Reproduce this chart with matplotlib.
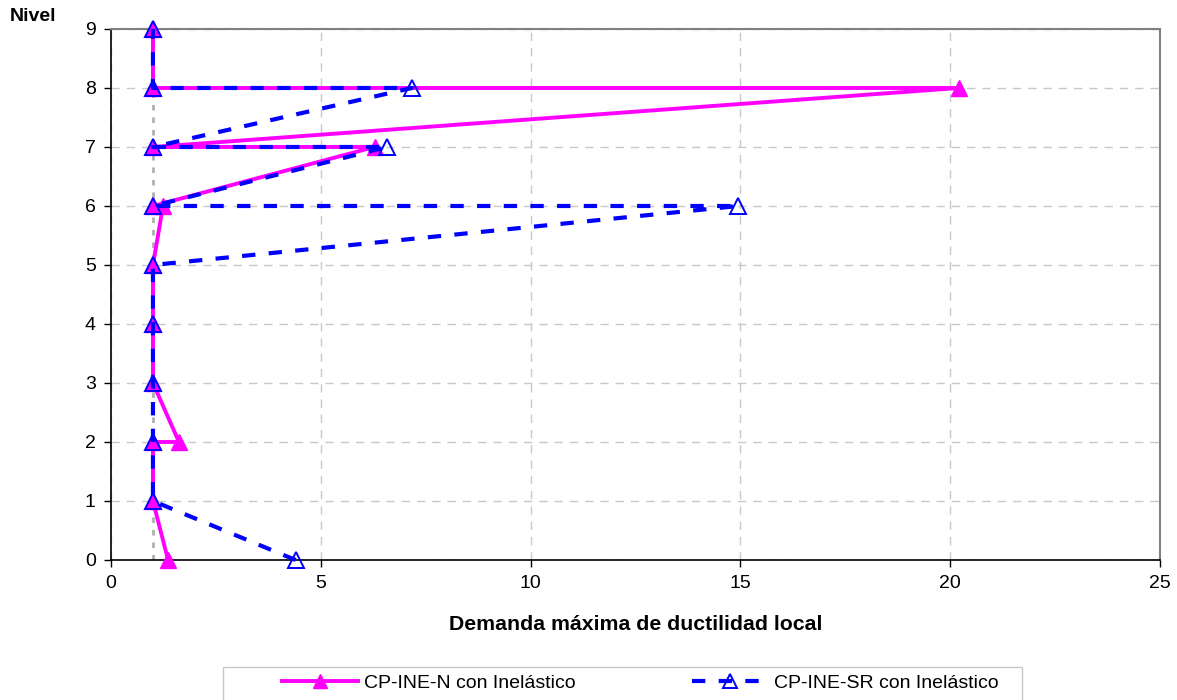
import matplotlib
matplotlib.use("Agg")
import matplotlib.pyplot as plt
from matplotlib.patches import Rectangle

plt.rcParams['font.family'] = ['Liberation Sans', 'DejaVu Sans']

# Data
n_x = [1.36, 1, 1, 1.62, 1, 1, 1, 1.24, 1, 6.28, 1, 20.2, 1, 1]
n_y = [0, 1, 2, 2, 3, 4, 5, 6, 6, 7, 7, 8, 8, 9]
sr_x = [4.4, 1, 1, 1, 1, 1, 14.95, 1, 6.58, 1, 7.17, 1, 1]
sr_y = [0, 1, 2, 3, 4, 5, 6, 6, 7, 7, 8, 8, 9]
ref_x = [1, 1]
ref_y = [0, 9]
label_n = "CP-INE-N con Inelástico"
label_sr = "CP-INE-SR con Inelástico"

fig = plt.figure(figsize=(11.77, 7.0), dpi=100)
ax = fig.add_axes([0.0943, 0.2, 0.8913, 0.7586])

ax.plot(ref_x, ref_y, color='#b0b0b0', linestyle=(0, (2, 2.5)), linewidth=2, zorder=2)
l1, = ax.plot(n_x, n_y, color='#ff00ff', linewidth=2.8, marker='^', markersize=12,
              markerfacecolor='#ff00ff', markeredgecolor='#ff00ff', zorder=3,
              label=label_n, clip_on=False)
l2, = ax.plot(sr_x, sr_y, color='#0000ff', linewidth=3, linestyle=(0, (3.2, 3.2)), marker='^',
              markersize=12, markerfacecolor='none', markeredgecolor='#0000ff',
              markeredgewidth=1.4, zorder=4, label=label_sr, clip_on=False)

ax.set_xlim(0, 25)
ax.set_ylim(0, 9)
ax.set_xticks(range(0, 26, 5))
ax.set_yticks(range(0, 10))
ax.grid(True, color='#c8c8c8', linestyle=(0, (6, 5)), linewidth=1)
ax.set_axisbelow(True)
for s in ['top', 'right']:
    ax.spines[s].set_color('#808080')
    ax.spines[s].set_linewidth(1.5)
for s in ['left', 'bottom']:
    ax.spines[s].set_color('black')
    ax.spines[s].set_linewidth(1.2)
ax.tick_params(axis='both', labelsize=14, direction='out', length=5, width=1, pad=6)

ax.set_xlabel("Demanda máxima de ductilidad local", fontsize=15.3, fontweight='bold', labelpad=16)
fig.text(0.008, 0.977, "Nivel", fontsize=14, fontweight='bold', ha='left', va='center')

# legend frame (extends past the bottom edge like the reference)
fig.patches.append(Rectangle((223 / 1177, -0.02), (1022 - 223) / 1177, 0.02 + (700 - 667) / 700,
                             transform=fig.transFigure, facecolor='white', edgecolor='#c8c8c8',
                             linewidth=1, zorder=0))
leg = fig.legend(handles=[l1, l2], loc='center left', bbox_to_anchor=(282 / 1177, 1 - 683 / 700),
                 ncol=2, fontsize=14, frameon=False, borderpad=0, borderaxespad=0,
                 handlelength=3.9, columnspacing=6.0, handletextpad=0.3, markerscale=0.8)
fig.savefig("out.png", dpi=100)
